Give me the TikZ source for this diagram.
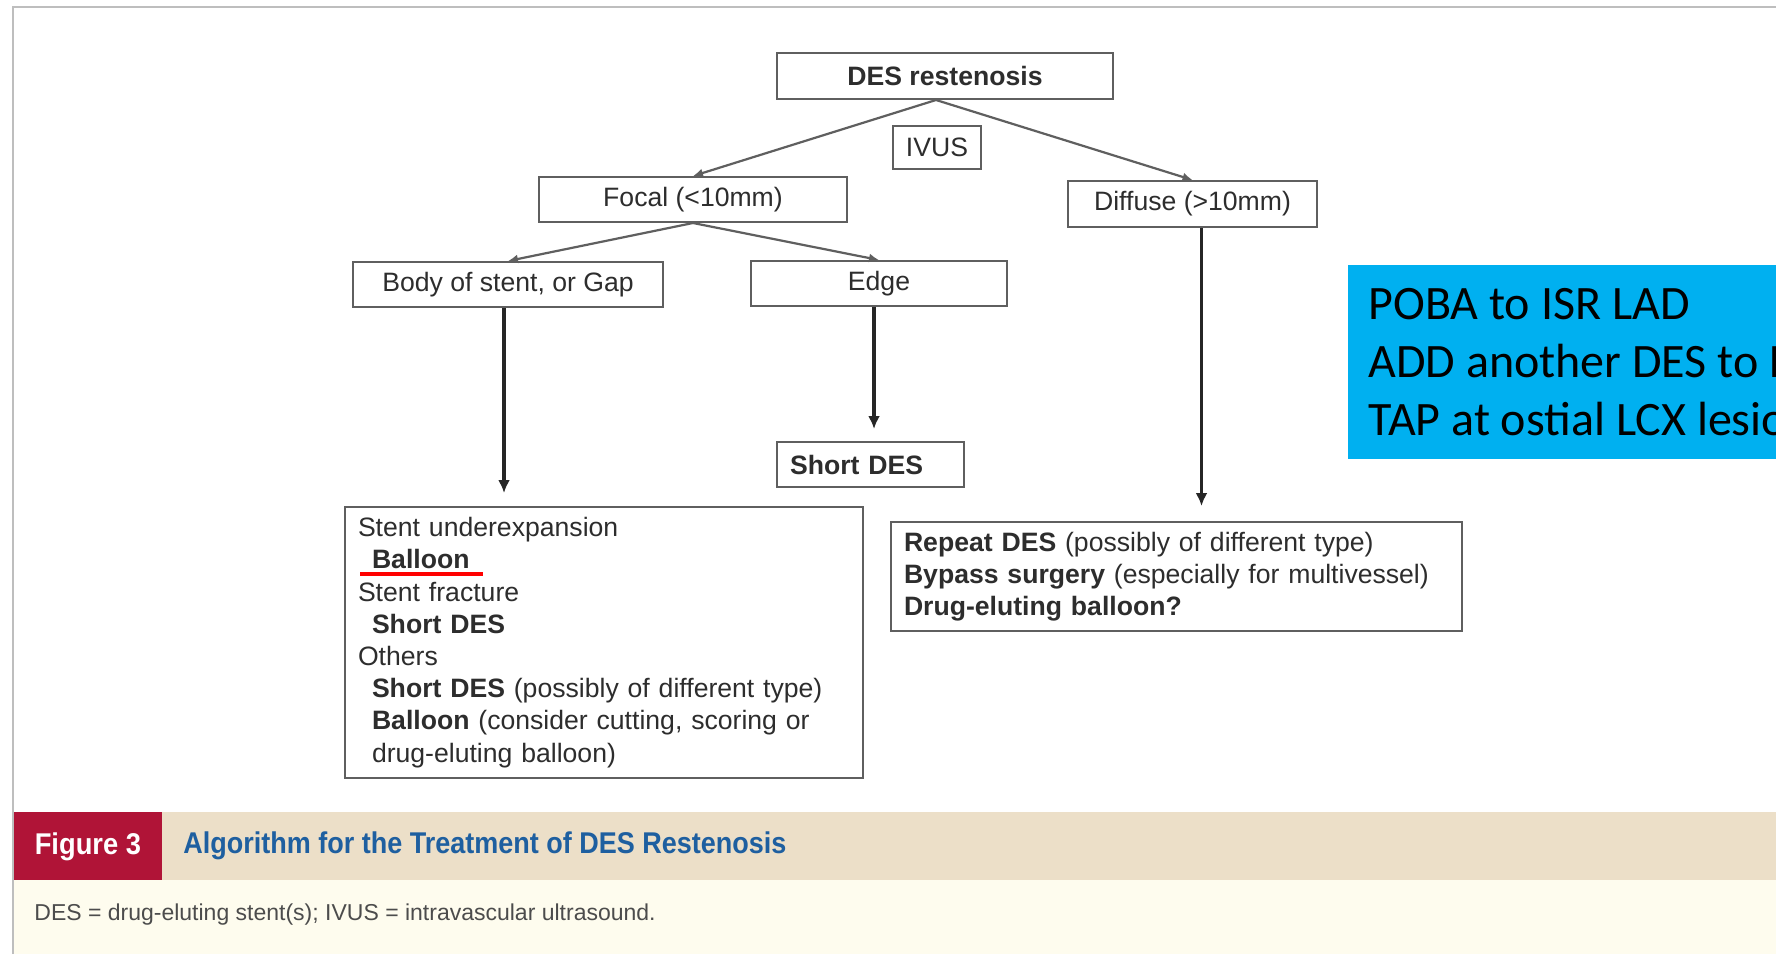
\documentclass[tikz,border=0pt]{standalone}
\usepackage{fontspec}
\usepackage{graphicx}
\setmainfont{Liberation Sans}
\newfontfamily\notefont{Carlito}
\usetikzlibrary{arrows.meta}
\definecolor{boxline}{RGB}{95,95,95}
\definecolor{boxtext}{RGB}{45,45,45}
\definecolor{frameline}{RGB}{190,190,190}
\definecolor{notebg}{RGB}{0,176,240}
\definecolor{bandbg}{RGB}{236,223,200}
\definecolor{figred}{RGB}{176,20,55}
\definecolor{capblue}{RGB}{30,95,160}
\definecolor{creambg}{RGB}{254,252,238}

\begin{document}
\begin{tikzpicture}[x=0.5pt, y=-0.5pt,
    box/.style={draw=boxline, line width=1pt, inner sep=0pt, text=boxtext,
        font=\fontsize{13.3}{16.1}\selectfont},
    bigbox/.style={box, anchor=north west, align=left, inner xsep=6.5pt},
    arr/.style={draw=boxline, line width=1.1pt, -{Latex[length=5pt,width=4.5pt]}},
    thickarr/.style={draw=black!85, line width=1.6pt, -{Latex[length=6.5pt,width=6pt]}}]
    \useasboundingbox (0, 0) rectangle (1776, 954);
    % frame and caption band
    \fill[white] (0, 0) rectangle (1776, 954);
    \fill[creambg] (13, 880) rectangle (1776, 954);
    \fill[bandbg] (13, 812) rectangle (1776, 880);
    \node[fill=figred, anchor=north west, minimum width=74.5pt, minimum height=34pt, inner sep=0pt,
        text=white, font=\fontsize{15}{18}\selectfont\bfseries] (fig) at (13, 812) {\scalebox{0.91}[1]{Figure 3}};
    \node[anchor=west, inner sep=0pt, text=capblue, font=\fontsize{15}{18}\selectfont\bfseries] (title)
        at (183, 846) {\scalebox{0.9}[1]{Algorithm for the Treatment of DES Restenosis}};
    \node[anchor=west, inner sep=0pt, text=black!70, font=\fontsize{11.5}{14}\selectfont] (abbr)
        at (34, 915) {DES = drug-eluting stent(s); IVUS = intravascular ultrasound.};
    \draw[frameline, line width=1.3pt] (13, 954) -- (13, 7) -- (1776, 7);

    % flowchart
    \node[box, minimum width=168pt, minimum height=23pt, font=\fontsize{13.3}{16.1}\selectfont\bfseries] (des) at (945, 76) {DES restenosis};
    \node[box, minimum width=44pt, minimum height=21.5pt] (ivus) at (937, 147.5) {IVUS};
    \node[box, minimum width=154pt, minimum height=22.5pt] (focal) at (693, 199.5) {Focal (<10mm)};
    \node[box, minimum width=124.5pt, minimum height=23pt] (diffuse) at (1192.5, 204) {Diffuse (>10mm)};
    \node[box, minimum width=155pt, minimum height=22.5pt] (body) at (508, 284.5) {Body of stent, or Gap};
    \node[box, minimum width=128pt, minimum height=22.5pt] (edge) at (879, 283.5) {Edge};
    \node[box, text width=80.5pt, inner xsep=6.5pt, align=left, minimum height=22.5pt,
        font=\fontsize{13.3}{16.1}\selectfont\bfseries] (short) at (870.5, 464.5) {Short DES};
    \node[bigbox, text width=246pt, minimum height=135.5pt] (lbox) at (344, 506) {%
        Stent underexpansion\\
        \hspace*{7pt}\textbf{Balloon}\\
        Stent fracture\\
        \hspace*{7pt}\textbf{Short DES}\\
        Others\\
        \hspace*{7pt}\textbf{Short DES} (possibly of different type)\\
        \hspace*{7pt}\textbf{Balloon} (consider cutting, scoring or\\
        \hspace*{7pt}drug-eluting balloon)};
    \node[bigbox, text width=272.5pt, minimum height=54.5pt] (rbox) at (890, 521) {%
        \textbf{Repeat DES} (possibly of different type)\\
        \textbf{Bypass surgery} (especially for multivessel)\\
        \textbf{Drug-eluting balloon?}};

    \coordinate (fork) at ([xshift=-4.5pt]des.south);
    \draw[arr] (fork) -- (focal.north);
    \draw[arr] (fork) -- (diffuse.north);
    \draw[arr] (focal.south) -- (body.north);
    \draw[arr] (focal.south) -- (edge.north);
    \draw[thickarr, shorten >=6.5pt] ([xshift=-2pt]body.south) -- ([xshift=-2pt]body.south |- lbox.north);
    \draw[thickarr, shorten >=6pt] ([xshift=-2.5pt]edge.south) -- ([xshift=-2.5pt]edge.south |- short.north);
    \draw[thickarr, shorten >=7.5pt] ([xshift=4.5pt]diffuse.south) -- ([xshift=4.5pt]diffuse.south |- rbox.north);

    % note and mark
    \draw[red, line width=2pt] (360, 574) -- (483, 574);
    \node[fill=notebg, anchor=north west, minimum height=97pt, inner xsep=10pt, inner ysep=0pt,
        align=left, font=\notefont\fontsize{24}{29}\selectfont] (note) at (1348, 265)
        {POBA to ISR LAD\\ADD another DES to LCX\\TAP at ostial LCX lesion};
\end{tikzpicture}
\end{document}
